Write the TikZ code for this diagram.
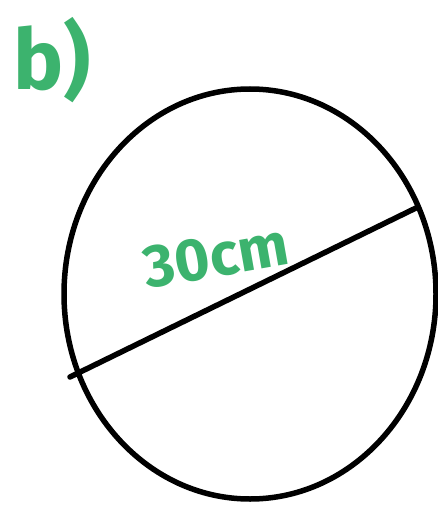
\documentclass[tikz,border=0pt]{standalone}
\usepackage{fontspec}
\setsansfont{Fira Sans}
\usetikzlibrary{shapes.geometric}
\definecolor{pen}{RGB}{60,179,110}
\begin{document}
\begin{tikzpicture}[x=1pt,y=-1pt,
  ink/.style={line width=5.5pt,line cap=round},
  hand/.style={text=pen,font=\sffamily\bfseries\fontsize{#1}{#1}\selectfont,inner sep=0pt}]
\useasboundingbox (0,0) rectangle (438,505);
\node[draw,ink,ellipse,minimum width=372pt,minimum height=410pt,inner sep=0pt] (circ) at (250,294) {};
\coordinate (pA) at (70,377);
\coordinate (pB) at (418,207);
\draw[ink] (pA) -- (pB);
\node[hand=84] (lbl) at (52,60) {b)};
\node[hand=60,rotate=10] (len) at (216,256) {30cm};
\end{tikzpicture}
\end{document}
